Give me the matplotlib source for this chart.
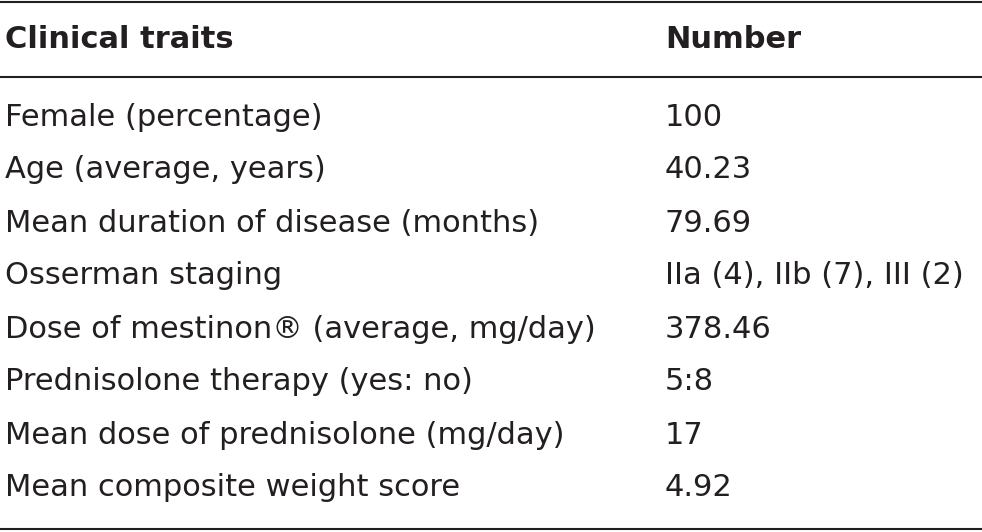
import matplotlib.pyplot as plt

header = ['Clinical traits', 'Number']
traits = ['Female (percentage)', 'Age (average, years)', 'Mean duration of disease (months)',
          'Osserman staging', 'Dose of mestinon\u00ae (average, mg/day)', 'Prednisolone therapy (yes: no)',
          'Mean dose of prednisolone (mg/day)', 'Mean composite weight score']
numbers = ['100', '40.23', '79.69', 'IIa (4), IIb (7), III (2)', '378.46', '5:8', '17', '4.92']

fig = plt.figure(figsize=(9.82, 5.32), dpi=100)
ax = fig.add_axes([0, 0, 1, 1])
ax.set_xlim(0, 982)
ax.set_ylim(532, 0)
ax.axis('off')

fam = ['DejaVu Sans']
col_x = [5, 665]
fs = 22
ax.text(col_x[0], 40, header[0], fontsize=fs, fontweight='bold', va='center', family=fam, color='#231f20')
ax.text(col_x[1], 40, header[1], fontsize=fs, fontweight='bold', va='center', family=fam, color='#231f20')
for i, (t, n) in enumerate(zip(traits, numbers)):
    y = 117 + i * 53
    ax.text(col_x[0], y, t, fontsize=fs, va='center', family=fam, color='#231f20')
    ax.text(col_x[1], y, n, fontsize=fs, va='center', family=fam, color='#231f20')

for y in (1.5, 77, 529):
    ax.plot([0, 982], [y, y], color='#231f20', lw=1.5)

fig.savefig('out.png', dpi=100)
